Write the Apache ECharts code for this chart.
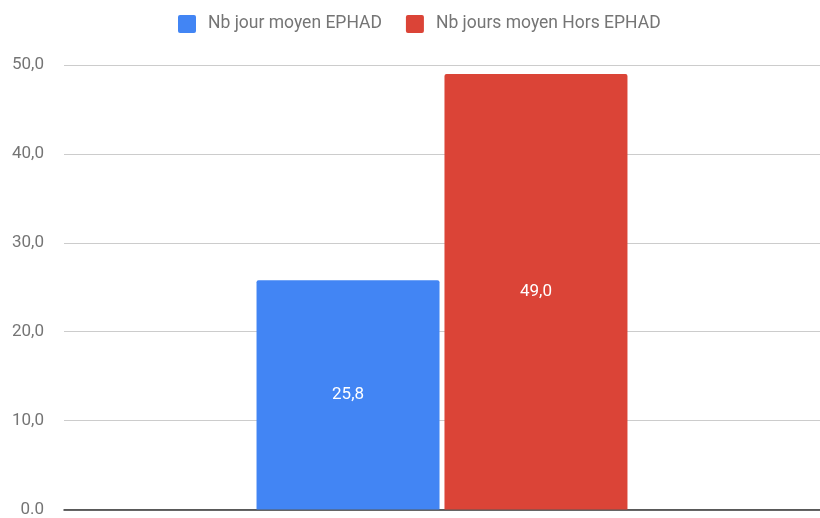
<!DOCTYPE html>
<html>
<head>
<meta charset="utf-8">
<script src="https://cdn.jsdelivr.net/npm/echarts@6/dist/echarts.min.js"></script>
<style>
  html, body { margin: 0; padding: 0; background: #fff; }
  #chart { width: 820px; height: 518px; }
</style>
</head>
<body>
<div id="chart"></div>
<script>
// données du graphique
const categories = ['']
const seriesNames = ['Nb jour moyen EPHAD', 'Nb jours moyen Hors EPHAD']
const ephadValues = [25.8]
const horsEphadValues = [49.0]
const tickLabels = { 0: '0.0', 10: '10,0', 20: '20,0', 30: '30,0', 40: '40,0', 50: '50,0' }

const fmt = v => v.toFixed(1).replace('.', ',')

const myChart = echarts.init(document.getElementById('chart'))
const options = {
  backgroundColor: '#FFF',
  textStyle: { fontFamily: 'Roboto' },
  legend: {
    top: 15,
    left: 178,
    padding: 0,
    itemWidth: 18,
    itemHeight: 18,
    itemGap: 24,
    icon: 'path://M2,0 L16,0 Q18,0 18,2 L18,16 Q18,18 16,18 L2,18 Q0,18 0,16 L0,2 Q0,0 2,0 Z',
    textStyle: { color: '#757575', fontSize: 17.5, fontFamily: 'Roboto', padding: [0, 0, 0, 7] },
    data: seriesNames
  },
  grid: { left: 64, right: 0, top: 65, bottom: 5, containLabel: false },
  xAxis: {
    type: 'category',
    data: categories,
    axisLine: { lineStyle: { color: '#333', width: 1.5 } },
    axisTick: { show: false },
    axisLabel: { show: false }
  },
  yAxis: {
    type: 'value',
    min: 0,
    max: 50,
    interval: 10,
    axisLine: { show: false },
    axisTick: { show: false },
    splitLine: { lineStyle: { color: '#ccc' } },
    axisLabel: {
      color: '#757575',
      fontSize: 17,
      margin: 20,
      formatter: v => tickLabels[v] !== undefined ? tickLabels[v] : fmt(v)
    }
  },
  series: [
    {
      name: seriesNames[0],
      type: 'bar',
      data: ephadValues,
      barWidth: 183,
      barGap: '2.7%',
      itemStyle: { color: '#4285f4', borderRadius: [2, 2, 0, 0] },
      label: { show: true, position: 'inside', color: '#fff', fontSize: 17, formatter: p => fmt(p.value) }
    },
    {
      name: seriesNames[1],
      type: 'bar',
      data: horsEphadValues,
      barWidth: 183,
      itemStyle: { color: '#db4437', borderRadius: [2, 2, 0, 0] },
      label: { show: true, position: 'inside', color: '#fff', fontSize: 17, formatter: p => fmt(p.value) }
    }
  ]
}
myChart.setOption(options)
</script>
</body>
</html>
